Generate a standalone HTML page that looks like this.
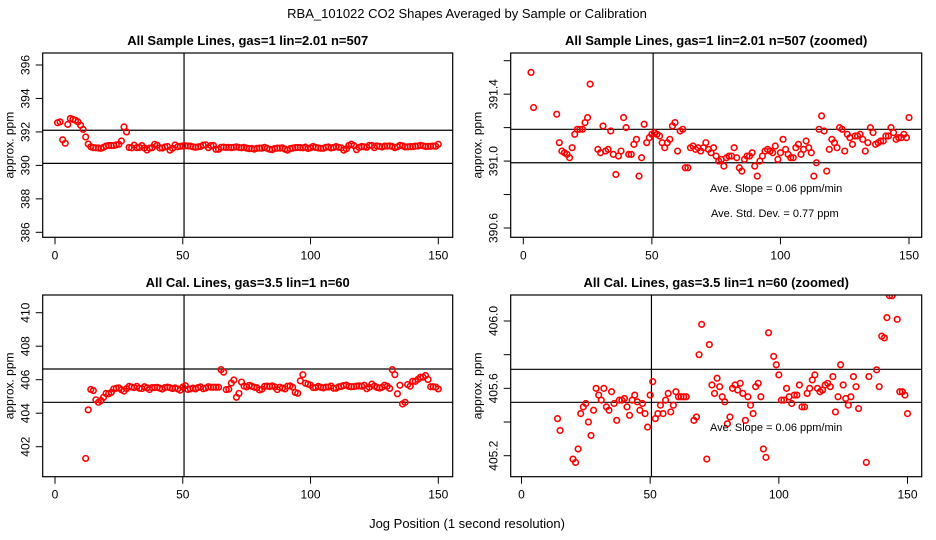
<!DOCTYPE html>
<html><head><meta charset="utf-8"><style>
html,body{margin:0;padding:0;background:#fff;overflow:hidden;width:936px;height:540px}
svg{display:block}
text{font-family:"Liberation Sans",sans-serif;fill:#000}
</style></head><body>
<svg id="c" width="936" height="540" viewBox="0 0 936 540">
<text x="467" y="18" text-anchor="middle" font-size="13">RBA_101022  CO2 Shapes Averaged by Sample or Calibration</text>
<text x="467" y="528" text-anchor="middle" font-size="13">Jog Position (1 second resolution)</text>
</svg>
<script>
const sampleX = [1,2,3,4,5,6,7,8,9,10,11,12,13,14,15,16,17,18,19,20,21,22,23,24,25,26,27,28,29,30,31,32,33,34,35,36,37,38,39,40,41,42,43,44,45,46,47,48,49,50,51,52,53,54,55,56,57,58,59,60,61,62,63,64,65,66,67,68,69,70,71,72,73,74,75,76,77,78,79,80,81,82,83,84,85,86,87,88,89,90,91,92,93,94,95,96,97,98,99,100,101,102,103,104,105,106,107,108,109,110,111,112,113,114,115,116,117,118,119,120,121,122,123,124,125,126,127,128,129,130,131,132,133,134,135,136,137,138,139,140,141,142,143,144,145,146,147,148,149,150];
const sampleY = [392.55,392.6,391.53,391.32,392.45,392.8,392.75,392.7,392.6,392.4,392.15,391.7,391.28,391.11,391.06,391.05,391.04,391.02,391.08,391.16,391.19,391.19,391.19,391.23,391.26,391.46,392.3,392.0,391.07,391.05,391.21,391.06,391.07,391.18,391.04,390.92,391.03,391.06,391.26,391.2,391.04,391.04,391.10,391.13,390.91,391.02,391.22,391.11,391.14,391.16,391.17,391.16,391.15,391.11,391.08,391.11,391.13,391.21,391.23,391.06,391.18,391.19,390.96,390.96,391.08,391.09,391.07,391.08,391.06,391.08,391.11,391.07,391.05,391.08,391.03,391.00,391.01,390.97,391.02,391.03,391.03,391.08,391.02,390.96,390.94,391.01,391.03,391.03,391.05,390.97,390.91,391.00,391.03,391.06,391.07,391.06,391.05,391.09,391.01,391.05,391.13,391.07,391.04,391.02,391.02,391.08,391.10,391.04,391.07,391.12,391.08,391.05,390.91,390.99,391.19,391.27,391.18,390.94,391.07,391.13,391.11,391.08,391.20,391.19,391.06,391.16,391.14,391.10,391.15,391.15,391.16,391.13,391.06,391.11,391.20,391.17,391.10,391.11,391.12,391.12,391.15,391.15,391.20,391.17,391.13,391.14,391.14,391.16,391.14,391.26];
const calX = [12,13,14,15,16,17,18,19,20,21,22,23,24,25,26,27,28,29,30,31,32,33,34,35,36,37,38,39,40,41,42,43,44,45,46,47,48,49,50,51,52,53,54,55,56,57,58,59,60,61,62,63,64,65,66,67,68,69,70,71,72,73,74,75,76,77,78,79,80,81,82,83,84,85,86,87,88,89,90,91,92,93,94,95,96,97,98,99,100,101,102,103,104,105,106,107,108,109,110,111,112,113,114,115,116,117,118,119,120,121,122,123,124,125,126,127,128,129,130,131,132,133,134,135,136,137,138,139,140,141,142,143,144,145,146,147,148,149,150];
const calY = [401.3,404.2,405.42,405.35,404.8,404.65,404.75,404.95,405.18,405.16,405.24,405.45,405.49,405.51,405.40,405.32,405.47,405.60,405.56,405.53,405.60,405.49,405.47,405.58,405.51,405.41,405.53,405.53,405.54,405.49,405.44,405.53,405.56,405.52,405.47,405.51,405.45,405.37,405.56,405.64,405.42,405.45,405.50,405.45,405.53,405.57,405.46,405.50,405.58,405.55,405.55,405.55,405.55,406.6,406.45,405.41,405.43,405.80,405.98,404.95,405.18,405.86,405.62,405.57,405.66,405.61,405.55,405.52,405.39,405.43,405.60,405.62,405.59,405.63,405.57,405.41,405.55,405.50,405.45,405.61,405.63,405.55,405.24,405.19,405.93,406.3,405.79,405.74,405.68,405.53,405.53,405.60,405.55,405.51,405.56,405.56,405.62,405.49,405.49,405.57,405.60,405.65,405.68,405.60,405.58,405.59,405.62,405.63,405.61,405.67,405.46,405.55,405.74,405.62,405.54,405.50,405.55,405.67,405.61,405.48,406.6,406.3,405.16,405.67,404.55,404.65,405.71,405.61,405.91,405.90,406.02,406.15,406.15,406.25,406.01,405.58,405.58,405.56,405.45];
const xTicks = [0,50,100,150];
const p1Ticks = [386,388,390,392,394,396];
const p1Labels = ["386","388","390","392","394","396"];
const p2Ticks = [390.6,390.8,391.0,391.2,391.4,391.6];
const p2Labels = ["390.6","","391.0","","391.4",""];
const p3Ticks = [402,404,406,408,410];
const p3Labels = ["402","404","406","408","410"];
const p4Ticks = [405.2,405.4,405.6,405.8,406.0];
const p4Labels = ["405.2","","405.6","","406.0"];
const p1HLines = [392.1, 390.12];
const p2HLines = [391.19, 390.99];
const p3HLines = [406.64, 404.65];
const p4HLines = [405.713, 405.517];
const vLine = 50.5;

const svg = document.getElementById('c');
const NS = 'http://www.w3.org/2000/svg';
function mk(tag, attrs, parent){const e=document.createElementNS(NS,tag);for(const k in attrs)e.setAttribute(k,attrs[k]);(parent||svg).appendChild(e);return e;}

function panel(cfg){
  const g = mk('g',{});
  
  
  const {L,R,T,B,x0,x150,yA,yAv,yB,yBv} = cfg;
  const sx = v => x0 + (x150-x0)*v/150;
  const sy = v => yA + (yB-yA)*(v-yAv)/(yBv-yAv);
  const clipId = cfg.name+'-clip';
  const cp = mk('clipPath',{id:clipId},g);
  mk('rect',{x:L,y:T,width:R-L,height:B-T},cp);
  const t = mk('text',{x:(L+R)/2,y:T-8,'text-anchor':'middle','font-size':13,'font-weight':'bold'},g);
  t.textContent = cfg.title;
  
  
  cfg.hl.forEach(v=>{
    const l = mk('line',{x1:L,x2:R,y1:sy(v),y2:sy(v),stroke:'#000','stroke-width':1.2},g);
    
    
  });
  const vl = mk('line',{x1:sx(vLine),x2:sx(vLine),y1:T,y2:B,stroke:'#000','stroke-width':1.2},g);
  
  
  const pts = mk('g',{'clip-path':'url(#'+clipId+')'},g);
  cfg.xs.forEach((xv,i)=>{
    const c = mk('circle',{cx:sx(xv),cy:sy(cfg.ys[i]),r:2.8,fill:'none',stroke:'#f00','stroke-width':1.6},pts);
    
    
  });
  const box = mk('rect',{x:L,y:T,width:R-L,height:B-T,fill:'none',stroke:'#000','stroke-width':1.2},g);
  
  
  xTicks.forEach(v=>{
    mk('line',{x1:sx(v),x2:sx(v),y1:B,y2:B+7,stroke:'#000','stroke-width':1},g);
    const tx = mk('text',{x:sx(v),y:B+22,'text-anchor':'middle','font-size':12},g);
    tx.textContent = v;
    
    
  });
  cfg.yt.forEach((v,i)=>{
    const y = sy(v);
    mk('line',{x1:L-7,x2:L,y1:y,y2:y,stroke:'#000','stroke-width':1},g);
    if(cfg.yl[i]){
      const tx = mk('text',{x:L-13,y:y,'text-anchor':'middle','font-size':12,transform:'rotate(-90 '+(L-13)+' '+y+')'},g);
      tx.textContent = cfg.yl[i];
      
      
    }
  });
  const yt = mk('text',{x:L-29,y:(T+B)/2,'text-anchor':'middle','font-size':12,transform:'rotate(-90 '+(L-29)+' '+((T+B)/2)+')'},g);
  yt.textContent = 'approx. ppm';
  
  
  (cfg.notes||[]).forEach(n=>{
    const tx = mk('text',{x:n[0],y:n[1],'font-size':11},g);
    tx.textContent = n[2];
    
    
  });
}

panel({name:'panel-sample',title:'All Sample Lines, gas=1 lin=2.01 n=507',L:42.7,R:452.7,T:53,B:237.3,x0:55,x150:438.3,yA:65,yAv:396,yB:232.3,yBv:386,xs:sampleX,ys:sampleY,yt:p1Ticks,yl:p1Labels,hl:p1HLines});
panel({name:'panel-sample-zoomed',title:'All Sample Lines, gas=1 lin=2.01 n=507 (zoomed)',L:510.7,R:921.7,T:53,B:237.3,x0:523.3,x150:909,yA:60.7,yAv:391.6,yB:228,yBv:390.6,xs:sampleX,ys:sampleY,yt:p2Ticks,yl:p2Labels,hl:p2HLines,
  notes:[[710,192,'Ave. Slope =  0.06  ppm/min'],[711,217,'Ave. Std. Dev. =  0.77  ppm']]});
panel({name:'panel-cal',title:'All Cal. Lines, gas=3.5 lin=1 n=60',L:42.7,R:452.7,T:295,B:476.7,x0:55,x150:438.3,yA:312.7,yAv:410,yB:446.7,yBv:402,xs:calX,ys:calY,yt:p3Ticks,yl:p3Labels,hl:p3HLines});
panel({name:'panel-cal-zoomed',title:'All Cal. Lines, gas=3.5 lin=1 n=60 (zoomed)',L:510.7,R:921.7,T:295,B:476.7,x0:521.5,x150:907.5,yA:321,yAv:406.0,yB:455.7,yBv:405.2,xs:calX,ys:calY,yt:p4Ticks,yl:p4Labels,hl:p4HLines,
  notes:[[710,431,'Ave. Slope =  0.06  ppm/min']]});
</script>
</body></html>
